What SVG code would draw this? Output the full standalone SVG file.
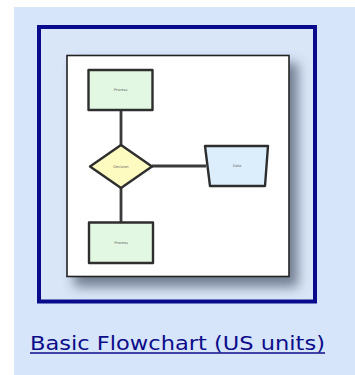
<svg xmlns="http://www.w3.org/2000/svg" width="355" height="375" viewBox="0 0 355 375">
  <defs>
    <filter id="soft" x="-20%" y="-20%" width="150%" height="150%">
      <feGaussianBlur stdDeviation="6"/>
    </filter>
    <style>
      .node { stroke: #2e2e2e; stroke-width: 2.4; stroke-linejoin: round; }
      .proc { fill: #e2f8e2; }
      .dec { fill: #fdfbc0; }
      .io { fill: #dcedfc; }
      .lbl { font-family: "DejaVu Sans", Verdana, sans-serif; font-size: 3.6px; fill: #666; text-anchor: middle; }
      .wire { stroke: #3a3a3a; stroke-width: 2.8; fill: none; }
    </style>
  </defs>

  <!-- panel background -->
  <rect x="0" y="0" width="355" height="375" fill="#ffffff"/>
  <rect x="14" y="7" width="341" height="368" fill="#d6e5f9"/>

  <!-- thumbnail frame -->
  <rect x="39" y="27" width="276" height="274.5" fill="#d8e6f8" stroke="#0a0a8c" stroke-width="4"/>

  <!-- page with drop shadow -->
  <rect x="74" y="63" width="224" height="224" fill="#5a6578" opacity="0.8" filter="url(#soft)"/>
  <rect x="67" y="55.5" width="222" height="221" fill="#ffffff" stroke="#222" stroke-width="1.6"/>

  <!-- connectors -->
  <g id="connectors">
    <line class="wire" x1="121" y1="110" x2="121" y2="145"/>
    <line class="wire" x1="121" y1="188" x2="121" y2="222"/>
    <line class="wire" x1="152" y1="166" x2="206" y2="166"/>
  </g>

  <g id="process-top">
    <rect class="node proc" x="88.5" y="70" width="64" height="40"/>
    <text class="lbl" x="120.5" y="91">Process</text>
  </g>

  <g id="decision">
    <polygon class="node dec" points="121,145 152,166.5 121,188 90,166.5"/>
    <text class="lbl" x="121" y="167.5">Decision</text>
  </g>

  <g id="data">
    <polygon class="node io" points="205,146 268,146 265,186 210,186"/>
    <text class="lbl" x="237" y="167">Data</text>
  </g>

  <g id="process-bottom">
    <rect class="node proc" x="89" y="222.5" width="64" height="40.5"/>
    <text class="lbl" x="121" y="243.5">Process</text>
  </g>

  <!-- caption -->
  <text x="30" y="350" font-family="'DejaVu Sans', Verdana, sans-serif" font-size="19" fill="#0c0c8a" textLength="295" lengthAdjust="spacingAndGlyphs">Basic Flowchart (US units)</text>
  <line x1="30" y1="353" x2="325" y2="353" stroke="#0c0c8a" stroke-width="1.4"/>
</svg>
